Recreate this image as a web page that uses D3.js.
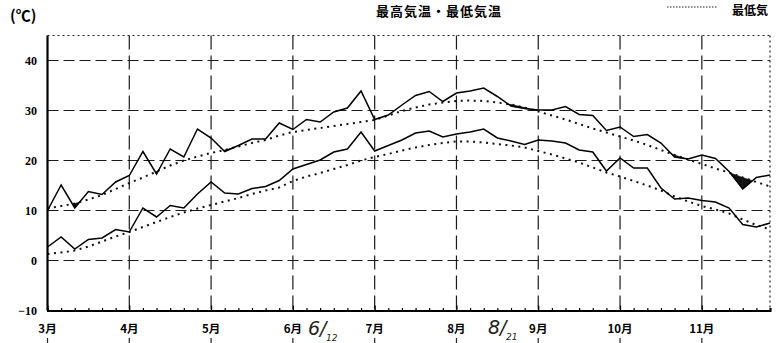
<!DOCTYPE html>
<html><head><meta charset="utf-8">
<script src="https://cdn.jsdelivr.net/npm/d3@7"></script>
<style>
html,body{margin:0;padding:0;background:#fff;}
svg{display:block;}
.num{font-family:"Liberation Serif","DejaVu Serif",serif;font-weight:bold;}
.jp{font-family:"Noto Sans CJK JP","Noto Sans CJK SC",sans-serif;font-weight:bold;}
</style></head>
<body>
<svg id="c" width="778" height="343"></svg>
<script>
// ---- data (pentad values, Mar 1 .. Nov 26) ----
const monthLabels = ["3月","4月","5月","6月","7月","8月","9月","10月","11月"];
const yTicks = [-10, 0, 10, 20, 30, 40];
const maxTemp = [10,15.1,10.5,13.8,13.2,15.7,17,21.8,17.3,22.3,20.7,26.3,24.5,21.8,23,24.3,24.3,27.5,26.2,28.2,
  27.7,29.7,30.5,33.9,28.2,29.1,31.1,33,33.8,31.8,33.5,33.9,34.5,32.8,30.9,30.4,30.1,30.1,30.8,29.2,
  29,26,26.7,24.8,25.2,23.5,20.7,20.3,21.1,20.4,17.8,14.3,16.6,17.1];
const minTemp = [2.7,4.7,2.3,4.2,4.5,6.2,5.7,10.5,8.7,11,10.5,13.3,15.7,13.5,13.3,14.4,14.8,16,18.3,19.2,
  20.1,21.7,22.3,25.7,21.9,23,24.1,25.5,25.9,24.7,25.3,25.7,26.3,24.5,23.9,23.2,24.1,23.9,23.5,22.1,
  21.7,17.9,20.5,18.5,18.5,14.5,12.3,12.5,12,11.7,10.5,7.2,6.7,7.5];
const maxNormal = [10.4,10.9,11.4,12.2,13.1,14.3,15.5,16.6,17.8,19,20,20.8,21.5,22.1,22.8,23.5,24.1,25,25.7,26.1,
  26.5,26.9,27.3,27.7,28.1,29,29.9,30.6,31.2,31.6,31.9,32,31.9,31.6,31.2,30.6,29.8,29,28.2,27.3,
  26.4,25.6,24.8,24,23.1,22.1,21.1,20.2,19.3,18.4,17.6,16.6,15.7,14.8];
const minNormal = [1.3,1.6,2,2.8,3.8,4.8,5.7,6.7,7.7,8.7,9.6,10.4,11.1,11.8,12.5,13.3,14,14.6,15.9,16.8,
  17.5,18.3,19.1,20,20.7,21.3,22,22.6,23.1,23.5,23.8,23.8,23.6,23.3,23,22.6,21.9,21.2,20.4,19.6,
  18.6,17.6,16.8,15.9,15,14,12.8,11.8,10.9,10.2,9.4,8.2,7.1,6.2];

const svg = d3.select("#c");
const n = maxTemp.length;
const x = d3.scaleLinear().domain([0, n - 1]).range([47.5, 770]);
const y = d3.scaleLinear().domain([-10, 45]).range([310.5, 35.5]);
const monthIdx = monthLabels.map((d, i) => i * 6);

// grid horizontal
svg.append("g").selectAll("line").data(yTicks.filter(v => v > -10)).join("line")
  .attr("x1", x(0)).attr("x2", x(n - 1)).attr("y1", d => y(d)).attr("y2", d => y(d))
  .attr("stroke", "#1a1a1a").attr("stroke-width", 1.1).attr("stroke-dasharray", "11,5");
// grid vertical
svg.append("g").selectAll("line").data(monthIdx.slice(1)).join("line")
  .attr("x1", d => x(d)).attr("x2", d => x(d)).attr("y1", y(45)).attr("y2", y(-10))
  .attr("stroke", "#1a1a1a").attr("stroke-width", 1.2).attr("stroke-dasharray", "14,6");
// top & right dotted border
svg.append("line").attr("x1", x(0)).attr("x2", x(n - 1)).attr("y1", y(45)).attr("y2", y(45))
  .attr("stroke", "#222").attr("stroke-width", 1.2).attr("stroke-dasharray", "2,3");
svg.append("line").attr("x1", x(n - 1)).attr("x2", x(n - 1)).attr("y1", y(45)).attr("y2", y(-10))
  .attr("stroke", "#222").attr("stroke-width", 1.2).attr("stroke-dasharray", "2,3");

// shaded area where max below normal
const lerp = (arr, t) => { const k = Math.floor(t), f = t - k; return k >= n - 1 ? arr[n - 1] : arr[k] * (1 - f) + arr[k + 1] * f; };
const shadePts = [];
for (let i = 0; i < n - 1; i++) {
  const d0 = maxTemp[i] - maxNormal[i], d1 = maxTemp[i + 1] - maxNormal[i + 1];
  if (d0 < 0 || d1 < 0) {
    let a = i, b = i + 1;
    if (d0 >= 0) a = i + d0 / (d0 - d1);
    if (d1 >= 0) b = i + d0 / (d0 - d1);
    shadePts.push([[a, lerp(maxTemp, a), lerp(maxNormal, a)], [b, lerp(maxTemp, b), lerp(maxNormal, b)]]);
  }
}
const areaGen = d3.area().x(d => x(d[0])).y0(d => y(d[2])).y1(d => y(d[1]));
svg.append("g").selectAll("path").data(shadePts).join("path")
  .attr("d", areaGen).attr("fill", "#111").attr("stroke", "#111").attr("stroke-width", 0.6);

const line = d3.line().x((d, i) => x(i)).y(d => y(d));
// normals (dotted)
[maxNormal, minNormal].forEach(arr => {
  svg.append("path").attr("d", line(arr)).attr("fill", "none").attr("stroke", "#111")
    .attr("stroke-width", 2).attr("stroke-dasharray", "2,4.5");
});
// observed (solid)
[maxTemp, minTemp].forEach(arr => {
  svg.append("path").attr("d", line(arr)).attr("fill", "none").attr("stroke", "#000")
    .attr("stroke-width", 1.5).attr("stroke-linejoin", "miter");
});

// bottom axis with pentad ticks
const xAxis = svg.append("g").attr("transform", `translate(0,${y(-10)})`)
  .call(d3.axisBottom(x).tickValues(d3.range(n)).tickSize(-2.5).tickFormat(""));
xAxis.select(".domain").attr("stroke", "#000").attr("stroke-width", 2);
xAxis.selectAll(".tick line").attr("stroke", "#000").attr("stroke-width", 1.2);
xAxis.selectAll(".tick").filter(d => d % 6 === 0).select("line").attr("y2", -5);
// left axis
svg.append("line").attr("x1", x(0)).attr("x2", x(0)).attr("y1", y(45)).attr("y2", y(-10))
  .attr("stroke", "#000").attr("stroke-width", 2.2);

// y labels
const yAxis = svg.append("g").attr("transform", "translate(37,0)")
  .call(d3.axisLeft(y).tickValues(yTicks).tickSize(0).tickPadding(0).tickFormat(d => d === -10 ? "−10" : d));
yAxis.select(".domain").remove();
yAxis.selectAll("text").attr("class", "num").attr("font-size", 12).attr("fill", "#000")
  .attr("font-family", "'Liberation Serif',serif").attr("font-weight", "bold");

// month labels
svg.append("g").selectAll("text").data(monthLabels).join("text")
  .attr("class", "jp").attr("x", (d, i) => x(monthIdx[i])).attr("y", 333)
  .attr("text-anchor", "middle").attr("font-size", 11.5).text(d => d);
svg.append("g").selectAll("line").data(monthIdx).join("line")
  .attr("x1", d => x(d)).attr("x2", d => x(d)).attr("y1", 338).attr("y2", 343)
  .attr("stroke", "#222").attr("stroke-width", 1.2);

// titles
svg.append("text").attr("class", "jp").attr("x", 10).attr("y", 21).attr("font-size", 15).text("(℃)");
svg.append("text").attr("class", "jp").attr("x", 439).attr("y", 16).attr("text-anchor", "middle")
  .attr("font-size", 13).attr("letter-spacing", 1).text("最高気温・最低気温");
svg.append("line").attr("x1", 667).attr("x2", 717).attr("y1", 7).attr("y2", 7)
  .attr("stroke", "#222").attr("stroke-width", 1.2).attr("stroke-dasharray", "1.5,1.5");
svg.append("text").attr("class", "jp").attr("x", 732).attr("y", 15).attr("font-size", 12)
  .text("最低気");

// handwritten annotations
const hand = "'DejaVu Sans',sans-serif";
function note(x0, y0, big, small) {
  svg.append("text").attr("x", x0).attr("y", y0).attr("font-family", hand).attr("font-style", "italic")
    .attr("fill", "#222").attr("font-size", 19).text(big);
  svg.append("text").attr("x", x0 + 18).attr("y", y0 + 6).attr("font-family", hand).attr("font-style", "italic")
    .attr("fill", "#222").attr("font-size", 9).text(small);
}
note(308, 335, "6/", "12");
note(488, 334, "8/", "21");
</script>
</body></html>
